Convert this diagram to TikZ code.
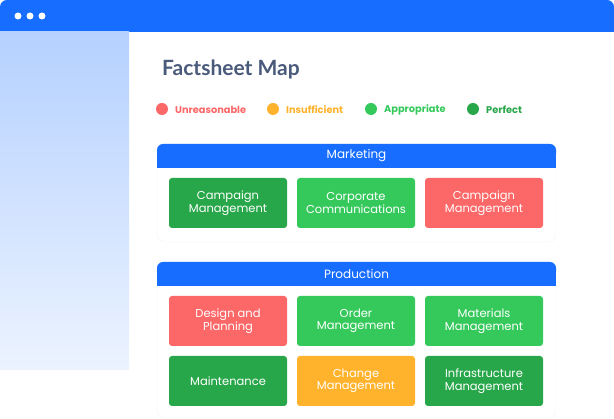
\documentclass[tikz,border=0pt]{standalone}
\usepackage{fontspec}
\setmainfont{Poppins}
\newfontfamily\titlefont{Lato}
\definecolor{barblue}{HTML}{176DFF}
\definecolor{sidetop}{HTML}{B5D1FF}
\definecolor{sidebot}{HTML}{ECF3FF}
\definecolor{titlecol}{HTML}{4A5A7B}
\definecolor{unreas}{HTML}{FC6767}
\definecolor{insuff}{HTML}{FFB22B}
\definecolor{approp}{HTML}{35C95C}
\definecolor{perfect}{HTML}{28A74A}
\tikzset{
  tile/.style={rounded corners=3pt, minimum width=118pt, minimum height=50pt,
    inner sep=0pt, align=center, text=white, font=\fontsize{11.5}{12.5}\selectfont},
  headtext/.style={text=white, font=\fontsize{12}{14}\selectfont, inner sep=0pt},
  dot/.style={circle, minimum size=12pt, inner sep=0pt},
  legtext/.style={anchor=west, inner sep=0pt, font=\fontsize{9.8}{11}\selectfont\bfseries},
  card/.style={fill=white, draw=black!4, rounded corners=8pt},
}
\begin{document}
\begin{tikzpicture}[x=1pt,y=-1pt]
\useasboundingbox (0,0) rectangle (614,419);
\fill[white] (0,0) rectangle (614,419);
% window title bar
\fill[barblue, rounded corners=7pt] (0,0) rectangle (614,24);
\fill[barblue] (0,12) rectangle (614,32);
\foreach \i/\px in {1/18,2/30,3/42}
  \node[circle, fill=white, minimum size=7pt, inner sep=0pt] (win\i) at (\px,16) {};
% sidebar
\shade[top color=sidetop, bottom color=sidebot] (0,32) rectangle (129,370);
% title
\node[anchor=west, inner sep=0pt, text=titlecol, font=\titlefont\fontsize{21}{24}\selectfont\bfseries] (title) at (162,69.5) {Factsheet Map};
% legend
\node[dot, fill=unreas] (d1) at (162,109) {};
\node[legtext, text=unreas] (l1) at (175,109.5) {Unreasonable};
\node[dot, fill=insuff] (d2) at (273,109) {};
\node[legtext, text=insuff] (l2) at (286,109.5) {Insufficient};
\node[dot, fill=approp] (d3) at (371,109) {};
\node[legtext, text=approp] (l3) at (384,109.5) {Appropriate};
\node[dot, fill=perfect] (d4) at (473,109) {};
\node[legtext, text=perfect] (l4) at (486,109.5) {Perfect};
% marketing group
\path[card] (157,144) rectangle (556,242);
\fill[barblue, rounded corners=6pt] (157,144) rectangle (556,160);
\fill[barblue] (157,154) rectangle (556,168);
\node[headtext] (mk) at (356.5,156) {Marketing};
\node[tile, fill=perfect] (m1) at (228,203) {Campaign\\Management};
\node[tile, fill=approp]  (m2) at (356,203) {Corporate\\Communications};
\node[tile, fill=unreas]  (m3) at (484,203) {Campaign\\Management};
% production group
\path[card] (157,262) rectangle (556,418);
\fill[barblue, rounded corners=6pt] (157,262) rectangle (556,278);
\fill[barblue] (157,272) rectangle (556,286);
\node[headtext] (pr) at (356.5,274) {Production};
\node[tile, fill=unreas]  (p1) at (228,321) {Design and\\Planning};
\node[tile, fill=approp]  (p2) at (356,321) {Order\\Management};
\node[tile, fill=approp]  (p3) at (484,321) {Materials\\Management};
\node[tile, fill=perfect] (p4) at (228,381) {Maintenance};
\node[tile, fill=insuff]  (p5) at (356,381) {Change\\Management};
\node[tile, fill=perfect] (p6) at (484,381) {Infrastructure\\Management};
\end{tikzpicture}
\end{document}
